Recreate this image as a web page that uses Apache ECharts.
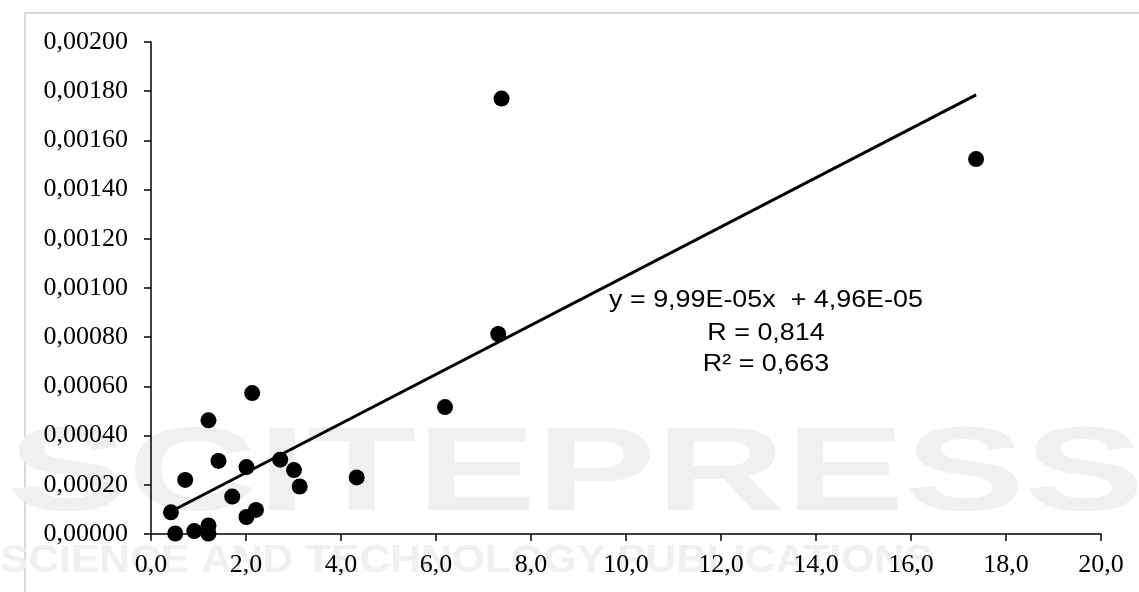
<!DOCTYPE html>
<html>
<head>
<meta charset="utf-8">
<style>
  html, body { margin: 0; padding: 0; background: #ffffff; }
  #chart { width: 1139px; height: 592px; }
</style>
<script src="https://cdn.jsdelivr.net/npm/echarts@6/dist/echarts.min.js"></script>
</head>
<body>
<div id="chart"></div>
<script>
// Data
const xValues = [0.42, 0.51, 0.91, 1.21, 1.21, 0.72, 1.21, 1.42, 1.71, 2.01, 2.01, 2.21, 2.13, 2.72, 3.01, 3.13, 4.33, 6.19, 7.31, 7.38, 17.37];
const yValues = [0.000088, 0.000002, 0.000012, 0.000035, 0.000002, 0.000220, 0.000462, 0.000297, 0.000152, 0.000272, 0.000069, 0.000098, 0.000573, 0.000302, 0.000260, 0.000193, 0.000230, 0.000516, 0.000813, 0.001770, 0.001524];
const trendSlope = 9.99e-5;
const trendIntercept = 4.96e-5;
const equationLines = ['y = 9,99E-05x  + 4,96E-05', 'R = 0,814', 'R² = 0,663'];
const xAxisRange = { min: 0, max: 20, interval: 2 };
const yAxisRange = { min: 0, max: 0.002, interval: 0.0002 };

const points = xValues.map((x, i) => [x, yValues[i]]);
const xMin = Math.min(...xValues), xMax = Math.max(...xValues);
const trendData = [[xMin, trendSlope * xMin + trendIntercept], [xMax, trendSlope * xMax + trendIntercept]];

const chart = echarts.init(document.getElementById('chart'), null, { renderer: 'canvas' });

const axisText = { fontFamily: 'Liberation Serif', fontSize: 26, color: '#000' };

chart.setOption({
  animation: false,
  backgroundColor: '#ffffff',
  grid: { left: 151, right: 38, top: 42, bottom: 58, containLabel: false },
  xAxis: {
    type: 'value',
    min: xAxisRange.min, max: xAxisRange.max, interval: xAxisRange.interval,
    axisLine: { show: true, onZero: false, lineStyle: { color: '#000', width: 1.5 } },
    axisTick: { show: true, inside: false, length: 7, lineStyle: { color: '#000', width: 1.5 } },
    splitLine: { show: false },
    axisLabel: Object.assign({ margin: 18, formatter: v => v.toFixed(1).replace('.', ',') }, axisText)
  },
  yAxis: {
    type: 'value',
    min: yAxisRange.min, max: yAxisRange.max, interval: yAxisRange.interval,
    axisLine: { show: true, onZero: false, lineStyle: { color: '#000', width: 1.5 } },
    axisTick: { show: true, inside: false, length: 7, lineStyle: { color: '#000', width: 1.5 } },
    splitLine: { show: false },
    axisLabel: Object.assign({ margin: 23, formatter: v => v.toFixed(5).replace('.', ',') }, axisText)
  },
  graphic: [
    { type: 'rect', z: -10, silent: true, shape: { x: 25, y: 13, width: 1300, height: 800 },
      style: { fill: 'none', stroke: '#d9d9d9', lineWidth: 2 } },
    { type: 'text', z: -9, silent: true, x: 8, y: 418, scaleX: 1.52,
      style: { text: 'SCITEPRESS', font: 'bold 118px "Liberation Sans"', fill: '#f0f0f0' } },
    { type: 'text', z: -9, silent: true, x: 0, y: 543, scaleX: 1.12,
      style: { text: 'SCIENCE AND TECHNOLOGY PUBLICATIONS', font: 'bold 38px "Liberation Sans"', fill: '#f0f0f0' } },
    { type: 'text', z: 100, silent: true, x: 766, y: 300, scaleX: 1.12,
      style: { text: equationLines[0], font: '24px "Liberation Sans"', fill: '#000', align: 'center', verticalAlign: 'middle' } },
    { type: 'text', z: 100, silent: true, x: 766, y: 333, scaleX: 1.12,
      style: { text: equationLines[1], font: '24px "Liberation Sans"', fill: '#000', align: 'center', verticalAlign: 'middle' } },
    { type: 'text', z: 100, silent: true, x: 766, y: 364, scaleX: 1.12,
      style: { text: equationLines[2], font: '24px "Liberation Sans"', fill: '#000', align: 'center', verticalAlign: 'middle' } }
  ],
  series: [
    {
      type: 'line', data: trendData, showSymbol: false, symbol: 'none',
      lineStyle: { color: '#000', width: 3 }, z: 2, silent: true
    },
    {
      type: 'scatter', data: points, symbol: 'circle', symbolSize: 16,
      itemStyle: { color: '#000', opacity: 1 }, z: 3, silent: true
    }
  ]
});
</script>
</body>
</html>
